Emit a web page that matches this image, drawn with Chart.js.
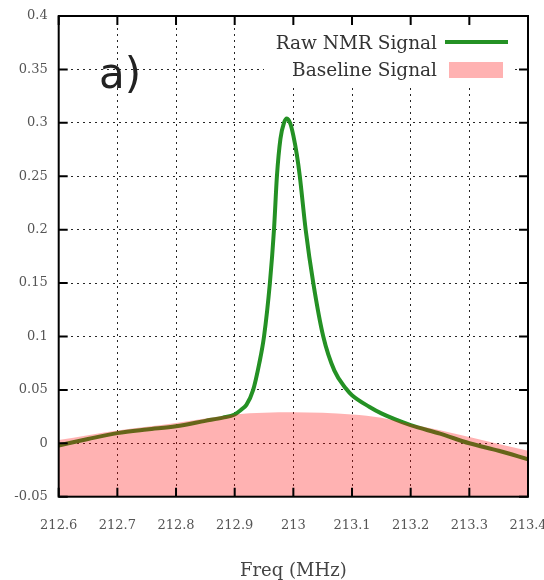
<!DOCTYPE html>
<html>
<head>
<meta charset="utf-8">
<script src="https://cdn.jsdelivr.net/npm/chart.js@4.4.1/dist/chart.umd.min.js"></script>
<style>
  html, body { margin: 0; padding: 0; background: #fff; }
  #wrap { width: 544px; height: 580px; }
</style>
</head>
<body>
<div id="wrap"><canvas id="c" width="544" height="580"></canvas></div>
<script>
// ---- data ----
const rawLabel = 'Raw NMR Signal';
const baseLabel = 'Baseline Signal';
const panelLabel = 'a)';
const xTitle = 'Freq (MHz)';

const rawFreq = [212.6, 212.65, 212.7, 212.75, 212.8, 212.85, 212.88, 212.9, 212.91, 212.92, 212.9315, 212.942, 212.95, 212.96, 212.967, 212.972, 212.978, 212.984, 212.989, 212.995, 213.0, 213.006, 213.011, 213.021, 213.034, 213.051, 213.07, 213.09, 213.1, 213.13, 213.15, 213.2, 213.25, 213.3, 213.35, 213.4];
const rawValues = [-0.002, 0.004, 0.0095, 0.013, 0.016, 0.021, 0.024, 0.027, 0.031, 0.036, 0.05, 0.075, 0.1, 0.15, 0.2, 0.25, 0.285, 0.3, 0.304, 0.299, 0.288, 0.27, 0.25, 0.2, 0.15, 0.1, 0.068, 0.051, 0.045, 0.034, 0.028, 0.017, 0.009, 0.0, -0.007, -0.015];

const baseFreq = [212.6, 212.7, 212.8, 212.9, 213.0, 213.05, 213.1, 213.15, 213.2, 213.3, 213.4];
const baseValues = [0.003, 0.012, 0.019, 0.027, 0.029, 0.0285, 0.027, 0.024, 0.018, 0.006, -0.007];

const xTickValues = [212.6, 212.7, 212.8, 212.9, 213.0, 213.1, 213.2, 213.3, 213.4];
const xTickLabels = ['212.6', '212.7', '212.8', '212.9', '213', '213.1', '213.2', '213.3', '213.4'];
const yTickValues = [-0.05, 0, 0.05, 0.1, 0.15, 0.2, 0.25, 0.3, 0.35, 0.4];
const yTickLabels = ['-0.05', '0', '0.05', '0.1', '0.15', '0.2', '0.25', '0.3', '0.35', '0.4'];

// ---- styles ----
const GREEN = 'rgb(36,145,36)';
const PINK = 'rgba(255,0,0,0.30)';

const toPoints = (xs, ys) => xs.map((x, i) => ({ x: x, y: ys[i] }));

const framePlugin = {
  id: 'frame',
  afterDatasetsDraw(chart) {
    const { ctx, chartArea: a, scales } = chart;
    ctx.save();
    // legend background box (hides the grid behind the key)
    ctx.fillStyle = '#fff';
    ctx.fillRect(264, 26, 249, 60);

    ctx.strokeStyle = '#000';
    ctx.lineWidth = 2;
    ctx.setLineDash([]);
    const tl = 9;
    ctx.beginPath();
    scales.x.ticks.forEach(t => {
      const px = scales.x.getPixelForValue(t.value);
      ctx.moveTo(px, a.bottom); ctx.lineTo(px, a.bottom - tl);
      ctx.moveTo(px, a.top); ctx.lineTo(px, a.top + tl);
    });
    scales.y.ticks.forEach(t => {
      const py = scales.y.getPixelForValue(t.value);
      ctx.moveTo(a.left, py); ctx.lineTo(a.left + tl, py);
      ctx.moveTo(a.right, py); ctx.lineTo(a.right - tl, py);
    });
    ctx.stroke();
    ctx.strokeRect(a.left, a.top, a.right - a.left, a.bottom - a.top);

    // panel label
    ctx.fillStyle = '#222';
    ctx.font = '42px "DejaVu Sans"';
    ctx.textAlign = 'left';
    ctx.textBaseline = 'alphabetic';
    ctx.fillText(panelLabel, 99, 88);

    // legend
    const ds = chart.data.datasets;
    ctx.font = '18.5px "DejaVu Serif"';
    ctx.fillStyle = '#333';
    ctx.textAlign = 'right';
    ctx.fillText(ds[0].label, 437, 49);
    ctx.fillText(ds[1].label, 437, 76);
    ctx.strokeStyle = ds[0].borderColor;
    ctx.lineWidth = 4;
    ctx.beginPath();
    ctx.moveTo(445, 42); ctx.lineTo(508, 42);
    ctx.stroke();
    ctx.fillStyle = ds[1].backgroundColor;
    ctx.fillRect(449, 62, 54, 16);
    ctx.restore();
  }
};

new Chart(document.getElementById('c'), {
  type: 'line',
  data: {
    datasets: [
      {
        label: rawLabel,
        data: toPoints(rawFreq, rawValues),
        borderColor: GREEN,
        borderWidth: 4,
        pointRadius: 0,
        fill: false,
        cubicInterpolationMode: 'monotone',
        order: 1
      },
      {
        label: baseLabel,
        data: toPoints(baseFreq, baseValues),
        borderColor: 'rgba(0,0,0,0)',
        borderWidth: 0,
        backgroundColor: PINK,
        pointRadius: 0,
        fill: 'start',
        cubicInterpolationMode: 'monotone',
        order: 0
      }
    ]
  },
  options: {
    responsive: false,
    animation: false,
    devicePixelRatio: 1,
    layout: { padding: { left: 0, right: 16, top: 16, bottom: 0 } },
    plugins: { legend: { display: false }, tooltip: { enabled: false } },
    scales: {
      x: {
        type: 'linear',
        min: 212.6, max: 213.4,
        afterBuildTicks: s => { s.ticks = xTickValues.map(v => ({ value: v })); },
        afterFit: s => { s.height = 83.3; s.paddingLeft = 0; s.paddingRight = 0; },
        ticks: {
          callback: (v, i) => xTickLabels[i],
          font: { family: 'DejaVu Serif', size: 13 },
          color: '#555',
          padding: 21,
          maxRotation: 0,
          autoSkip: false
        },
        grid: { color: 'rgba(0,0,0,0.85)', lineWidth: 1, drawTicks: false },
        border: { display: false, dash: [2, 4] },
        title: {
          display: true,
          text: xTitle,
          font: { family: 'DejaVu Serif', size: 18 },
          color: '#444',
          padding: { top: 0, bottom: -2 }
        }
      },
      y: {
        type: 'linear',
        min: -0.05, max: 0.4,
        afterBuildTicks: s => { s.ticks = yTickValues.map(v => ({ value: v })); },
        afterFit: s => { s.width = 58.7; s.paddingTop = 0; s.paddingBottom = 0; },
        ticks: {
          callback: (v, i) => yTickLabels[i],
          font: { family: 'DejaVu Serif', size: 13 },
          color: '#555',
          padding: 11,
          autoSkip: false
        },
        grid: { color: 'rgba(0,0,0,0.85)', lineWidth: 1, drawTicks: false },
        border: { display: false, dash: [2, 4] }
      }
    }
  },
  plugins: [framePlugin]
});
</script>
</body>
</html>
